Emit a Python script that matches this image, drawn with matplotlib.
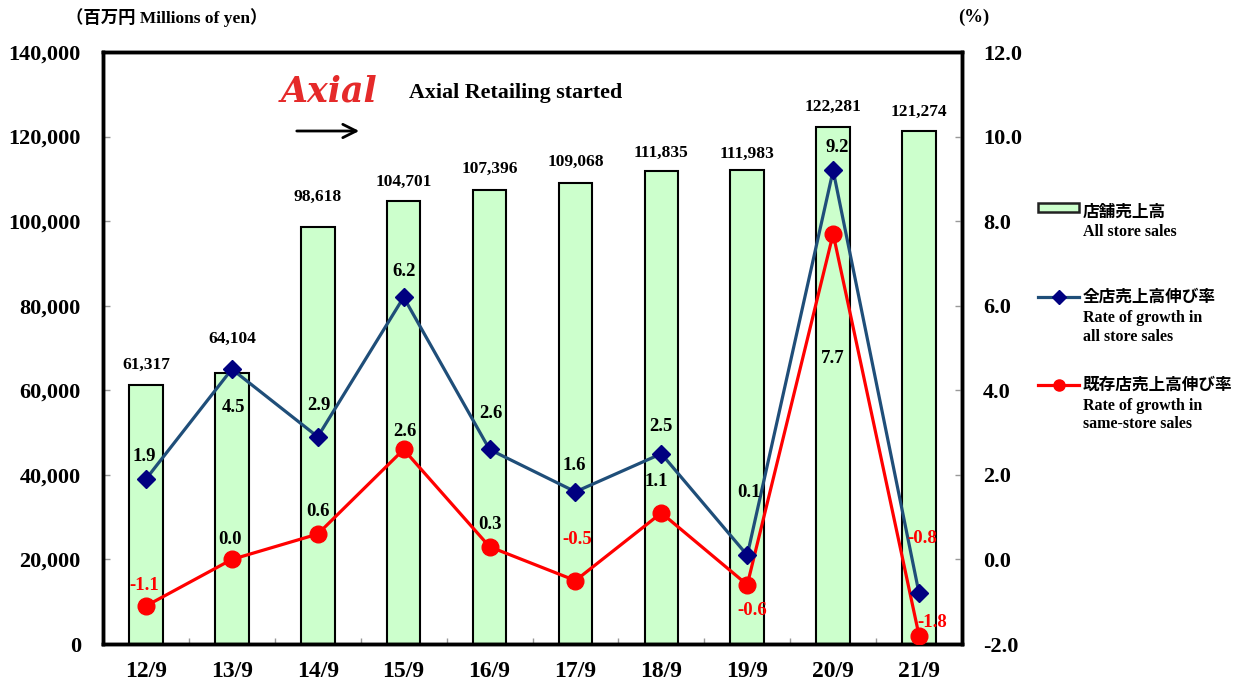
import matplotlib
matplotlib.use("Agg")
import matplotlib.pyplot as plt
from matplotlib.lines import Line2D
from matplotlib.patches import Rectangle, FancyArrowPatch
import numpy as np

# ---- data ----
categories = ["12/9", "13/9", "14/9", "15/9", "16/9", "17/9", "18/9", "19/9", "20/9", "21/9"]
store_sales = [61317, 64104, 98618, 104701, 107396, 109068, 111835, 111983, 122281, 121274]
all_growth = [1.9, 4.5, 2.9, 6.2, 2.6, 1.6, 2.5, 0.1, 9.2, -0.8]
same_growth = [-1.1, 0.0, 0.6, 2.6, 0.3, -0.5, 1.1, -0.6, 7.7, -1.8]
left_ticks = [0, 20000, 40000, 60000, 80000, 100000, 120000, 140000]
right_ticks = [-2.0, 0.0, 2.0, 4.0, 6.0, 8.0, 10.0, 12.0]

# label offsets in pixels (dx, dy upward positive)
bar_off = [20, 34, 30, 19, 21, 21, 18, 17, 20, 19]
all_off = [(-2, 23), (2, -38), (1, 31), (0, 26), (1, 36), (-1, 26), (0, 27), (2, 63), (4, 23), (3, 55)]
same_off = [(-2, 20), (-2, 20), (0, 23), (1, 18), (0, 22), (2, 41), (-5, 31), (5, -26), (0, -125), (13, 13)]

SERIF = ["Liberation Serif", "Noto Sans CJK JP"]
CJK = ["Noto Sans CJK JP", "DejaVu Sans"]
plt.rcParams['font.family'] = SERIF
plt.rcParams['font.weight'] = 'bold'

W, H = 1235, 686
fig = plt.figure(figsize=(W / 100, H / 100), dpi=100)
ax = fig.add_axes([103 / W, 1 - 644 / H, (962 - 103) / W, (644 - 52) / H])
ax2 = ax.twinx()

x = np.arange(len(categories))
ax.bar(x, store_sales, width=0.39, color="#CCFFCC", edgecolor="black", linewidth=1.5, zorder=2)
ax.set_xlim(-0.5, len(categories) - 0.5)
ax.set_ylim(0, 140000)
ax.set_yticks(left_ticks)
ax.set_yticklabels([f"{v:,}" for v in left_ticks], fontsize=16, fontweight='bold')
ax.set_xticks(x)
ax.set_xticklabels(categories, fontsize=17, fontweight='bold')
ax.tick_params(axis='x', length=0, pad=12)
ax.set_xticks(np.arange(len(categories) - 1) + 0.5, minor=True)
ax.tick_params(axis='x', which='minor', direction='in', length=4, color='#999999', width=1)
ax.tick_params(axis='y', direction='in', length=5, color='#999999', width=1, pad=16)

ax2.set_ylim(-2.0, 12.0)
ax2.set_yticks(right_ticks)
ax2.set_yticklabels([f"{v:.1f}" for v in right_ticks], fontsize=16, fontweight='bold')
ax2.tick_params(axis='y', direction='in', length=5, color='#999999', width=1, pad=15)

for a in (ax, ax2):
    for s in a.spines.values():
        s.set_linewidth(2.5)
        s.set_color('black')

ax2.plot(x, all_growth, color="#1F4E79", linewidth=2.3, marker='D', markersize=9,
         markerfacecolor="#000080", markeredgecolor="#000080", zorder=4)
ax2.plot(x, same_growth, color="#FF0000", linewidth=2.3, marker='o', markersize=12,
         markerfacecolor="#FF0000", markeredgecolor="#FF0000", zorder=3)

for i, v in enumerate(store_sales):
    ax.annotate(f"{v:,}", (x[i], v), xytext=(0, bar_off[i]), textcoords='offset pixels',
                ha='center', va='center', fontsize=12.5, fontweight='bold', zorder=6)
for i, v in enumerate(all_growth):
    ax2.annotate(f"{v:.1f}", (x[i], v), xytext=all_off[i], textcoords='offset pixels',
                 ha='center', va='center', fontsize=13.5, fontweight='bold',
                 color='red' if v < 0 else 'black', zorder=6)
for i, v in enumerate(same_growth):
    ax2.annotate(f"{v:.1f}", (x[i], v), xytext=same_off[i], textcoords='offset pixels',
                 ha='center', va='center', fontsize=13.5, fontweight='bold',
                 color='red' if v < 0 else 'black', zorder=6)

def fx(px):
    return px / W

def fy(py):
    return 1 - py / H

# top labels
fig.text(fx(66), fy(18), "（百万円 Millions of yen）", fontsize=12.5, fontweight='bold',
         ha='left', va='center', family=SERIF)
fig.text(fx(958), fy(17), "(%)", fontsize=13.5, fontweight='bold', ha='left', va='center')

# logo and annotation
fig.text(fx(281), fy(92), "Axial", fontsize=25, fontweight='bold', style='italic',
         color="#E52A2A", ha='left', va='center', family=["DejaVu Serif"])
fig.text(fx(409), fy(93), "Axial Retailing started", fontsize=15.8, fontweight='bold',
         ha='left', va='center')
fig.add_artist(FancyArrowPatch((fx(294), fy(131)), (fx(362), fy(131)),
               transform=fig.transFigure, arrowstyle='->', mutation_scale=24,
               linewidth=2, color='black'))

# legend
LEG_EN = 11.5
fig.add_artist(Rectangle((fx(1038), fy(212)), fx(1079) - fx(1038), fy(203) - fy(212),
               transform=fig.transFigure, facecolor="#CCFFCC", edgecolor='#222222', linewidth=1.8))
fig.text(fx(1083), fy(212), "店舗売上高", fontsize=12, fontweight='bold', family=CJK,
         ha='left', va='center')
fig.text(fx(1083), fy(232), "All store sales", fontsize=LEG_EN, fontweight='bold', ha='left', va='center')

fig.add_artist(Line2D([fx(1038), fx(1079)], [fy(297), fy(297)], transform=fig.transFigure,
               color="#1F4E79", linewidth=2.3))
fig.add_artist(Line2D([fx(1058.5)], [fy(297)], transform=fig.transFigure, linestyle='none',
               marker='D', markersize=7, markerfacecolor="#000080", markeredgecolor="#000080"))
fig.text(fx(1083), fy(297), "全店売上高伸び率", fontsize=12, fontweight='bold', family=CJK,
         ha='left', va='center')
fig.text(fx(1083), fy(318), "Rate of growth in", fontsize=LEG_EN, fontweight='bold', ha='left', va='center')
fig.text(fx(1083), fy(337), "all store sales", fontsize=LEG_EN, fontweight='bold', ha='left', va='center')

fig.add_artist(Line2D([fx(1038), fx(1079)], [fy(385), fy(385)], transform=fig.transFigure,
               color="#FF0000", linewidth=2.3))
fig.add_artist(Line2D([fx(1058.5)], [fy(385)], transform=fig.transFigure, linestyle='none',
               marker='o', markersize=8, markerfacecolor="#FF0000", markeredgecolor="#FF0000"))
fig.text(fx(1083), fy(385), "既存店売上高伸び率", fontsize=12, fontweight='bold', family=CJK,
         ha='left', va='center')
fig.text(fx(1083), fy(406), "Rate of growth in", fontsize=LEG_EN, fontweight='bold', ha='left', va='center')
fig.text(fx(1083), fy(424), "same-store sales", fontsize=LEG_EN, fontweight='bold', ha='left', va='center')

fig.savefig("out.png", dpi=100)
